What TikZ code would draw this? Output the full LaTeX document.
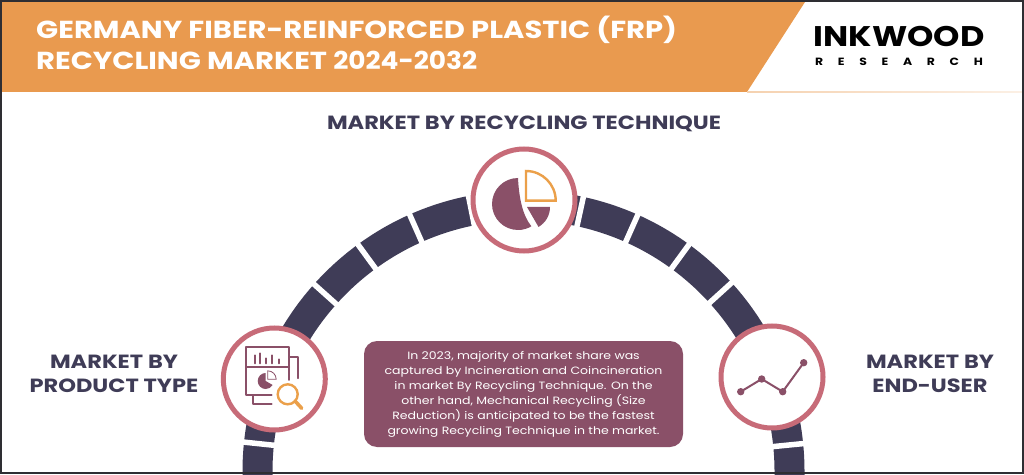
\documentclass[tikz,border=0pt]{standalone}
\usepackage{fontspec}
\setmainfont[FakeStretch=1.18]{Poppins}
\definecolor{hdr}{HTML}{E99A4F}
\definecolor{navy}{HTML}{3F3C57}
\definecolor{rosec}{HTML}{C76B78}
\definecolor{plum}{HTML}{8A5068}
\definecolor{frm}{HTML}{2E2E33}
\definecolor{amber}{HTML}{EBA04A}
\tikzset{
  x=1pt,y=1pt,
  ttl/.style={font=\bfseries\fontsize{24.6}{30}\selectfont,text=white,anchor=west,inner sep=0},
  hd/.style={font=\bfseries\fontsize{19.1}{24}\selectfont,text=navy,align=center,inner sep=0},
  ring/.style={circle,draw=rosec,line width=5pt,fill=white,minimum size=102pt,inner sep=0},
  ico/.style={draw=plum,line width=1.7pt,line cap=round,line join=round},
  amb/.style={draw=amber,line width=2.4pt,line join=miter},
  seg/.style={draw=navy,line width=30pt},
  gap/.style={draw=white,line width=5.5pt},
}
\begin{document}
\begin{tikzpicture}
\useasboundingbox (0,0) rectangle (1024,474);
\fill[white] (0,0) rectangle (1024,474);
% header
\fill[hdr] (0,382) -- (747,382) -- (805,472) -- (0,472) -- cycle;
\shade[left color=hdr!45,right color=hdr!15] (747,381) rectangle (1022,382.5);
\node[ttl] (t1) at (36,444) {GERMANY FIBER-REINFORCED PLASTIC (FRP)};
\node[ttl] (t2) at (36,413.5) {RECYCLING MARKET \scalebox{.91}[1]{2024-2032}};
\node[font=\bfseries\fontsize{28.4}{30}\selectfont,text=black,inner sep=0] (ink) at (899,438) {INKWOOD};
\node[font=\bfseries\fontsize{10.5}{12}\selectfont,text=black,inner sep=0] (res) at (899,412) {R\hspace{14.7pt}E\hspace{14.7pt}S\hspace{14.7pt}E\hspace{14.7pt}A\hspace{14.7pt}R\hspace{14.7pt}C\hspace{14.7pt}H};
% arc
\coordinate (arcc) at (523.5,2.5);
\draw[seg] (257.5,-5) -- (257.5,2.5) arc[start angle=180,end angle=0,radius=266] -- (789.5,-5);
\foreach \a in {5.7,42.2,53.9,66,77.7,101.3,113.9,126.1,138.2,174}{
  \draw[gap] (arcc) ++(\a:245) -- ++(\a:42);
}
% rings
\node[ring] (top) at (524,274) {};
\node[ring] (lft) at (274.3,95) {};
\node[ring] (rgt) at (772,97) {};
% pie icon
\fill[plum] (518,296) arc[start angle=90,end angle=301,radius=26] .. controls (523,258) and (519,275) .. (518,296) -- cycle;
\fill[plum] (527,267) -- (550,267) arc[start angle=0,end angle=-60,radius=23] -- cycle;
\draw[amb] (526,302.3) -- (526,273.3) -- (555.7,273.3) arc[start angle=0,end angle=90,radius=29.7] -- cycle;
% report icon
\draw[ico] (289.3,94) -- (289.3,126.7) -- (246,126.7) -- (246,79) -- (271.7,79);
\draw[ico] (246,107.3) -- (289.3,107.3);
\draw[ico] (289.3,117.3) -- (298.3,117.3) -- (298.3,95.7);
\draw[ico] (253.3,79) -- (253.3,70) -- (271.7,70);
\foreach \x/\h in {255/8,260/10,266/5,271.7/8,279.3/4}{\draw[ico,line width=2pt] (\x,110.7) -- (\x,110.7+\h);}
\fill[plum] (265.7,93) ++(90:8) arc[start angle=90,end angle=330,radius=8] -- (265.7,93) -- cycle;
\draw[plum,line width=.8pt,fill=white] (267.7,103.2) arc[start angle=90,end angle=0,radius=8.5] -- (267.7,94.7) -- cycle;
\draw[amb] (287.7,79.7) circle[radius=10];
\draw[amber,line width=3.6pt,line cap=round] (295,73) -- (301.7,65.7);
% line icon
\coordinate (p1) at (740.7,82.3);
\coordinate (p2) at (761.7,95);
\coordinate (p3) at (782.7,82.3);
\coordinate (p4) at (803.7,111.3);
\draw[plum,line width=2pt] (p1) -- (p2) -- (p3) -- (p4);
\foreach \p in {p1,p2,p3,p4}{\fill[plum] (\p) circle[radius=3.7];}
% labels
\node[hd] (h1) at (524,350.5) {MARKET BY RECYCLING TECHNIQUE};
\node[hd] (h2) at (114,100) {MARKET BY\\PRODUCT TYPE};
\node[hd] (h3) at (930,100) {MARKET BY\\END-USER};
% box
\node[fill=plum,rounded corners=13pt,minimum width=319pt,minimum height=106pt,inner sep=0,text=white,align=center,font=\fontsize{10.6}{15}\selectfont] (box) at (523.5,80) {In 2023, majority of market share was\\captured by Incineration and Coincineration\\in market By Recycling Technique. On the\\other hand, Mechanical Recycling (Size\\Reduction) is anticipated to be the fastest\\growing Recycling Technique in the market.};
% frame
\draw[frm,line width=2pt] (1,1) rectangle (1023,473);
\end{tikzpicture}
\end{document}
